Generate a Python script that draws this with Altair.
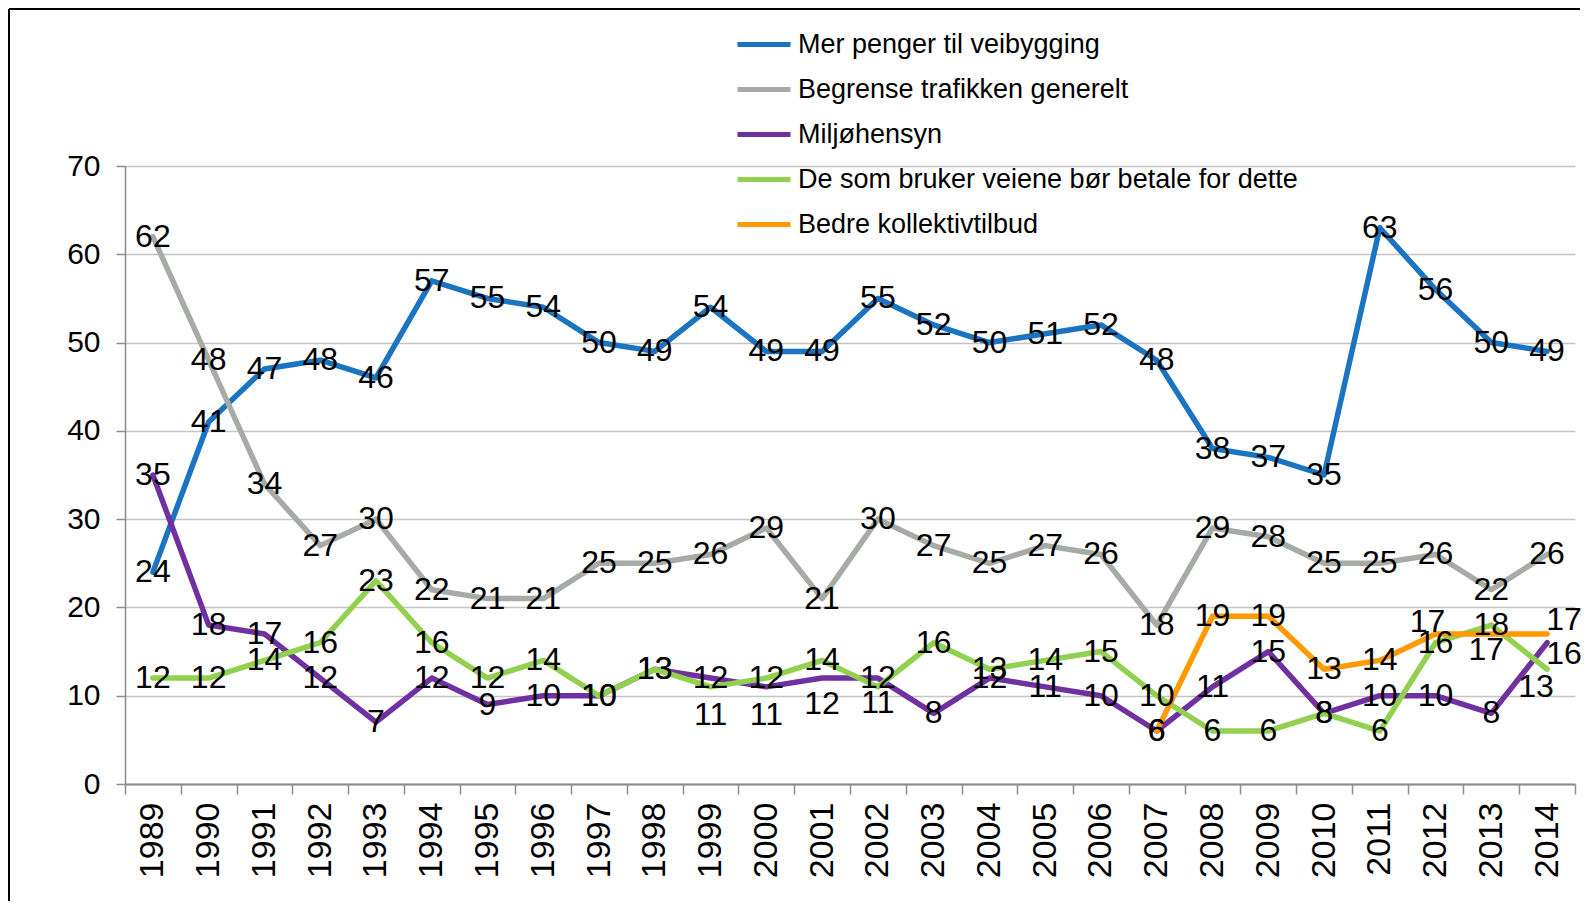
import altair as alt
import pandas as pd

years = list(range(1989, 2015))
series_names = [
    "Mer penger til veibygging",
    "Begrense trafikken generelt",
    "Miljøhensyn",
    "De som bruker veiene bør betale for dette",
    "Bedre kollektivtilbud",
]
colors = ["#1A74C2", "#A6ABA6", "#7030A0", "#92D050", "#FF9A00"]

mer_penger = [24, 41, 47, 48, 46, 57, 55, 54, 50, 49, 54, 49, 49, 55, 52, 50, 51, 52, 48, 38, 37, 35, 63, 56, 50, 49]
begrense = [62, 48, 34, 27, 30, 22, 21, 21, 25, 25, 26, 29, 21, 30, 27, 25, 27, 26, 18, 29, 28, 25, 25, 26, 22, 26]
miljo = [35, 18, 17, 12, 7, 12, 9, 10, 10, 13, 12, 11, 12, 12, 8, 12, 11, 10, 6, 11, 15, 8, 10, 10, 8, 16]
brukerbetaling = [12, 12, 14, 16, 23, 16, 12, 14, 10, 13, 11, 12, 14, 11, 16, 13, 14, 15, 10, 6, 6, 8, 6, 16, 18, 13]
kollektiv = [None] * 18 + [6, 19, 19, 13, 14, 17, 17, 17]

y_ticks = [0, 10, 20, 30, 40, 50, 60, 70]

# label placement tweaks (style only): (series, year) -> (dx, dy) in pixels
label_shift = {
    ("De som bruker veiene bør betale for dette", 1999): (0, 28),
    ("Miljøhensyn", 2000): (0, 28),
    ("Miljøhensyn", 2001): (0, 26),
    ("De som bruker veiene bør betale for dette", 2002): (0, 16),
    ("Bedre kollektivtilbud", 2012): (-8, -12),
    ("Bedre kollektivtilbud", 2013): (-5, 16),
    ("Bedre kollektivtilbud", 2014): (17, -14),
    ("Miljøhensyn", 2014): (17, 11),
    ("De som bruker veiene bør betale for dette", 2014): (-11, 18),
}

rows = []
for name, vals in zip(series_names, [mer_penger, begrense, miljo, brukerbetaling, kollektiv]):
    for yr, v in zip(years, vals):
        if v is not None:
            dx, dy = label_shift.get((name, yr), (0, 0))
            rows.append({"serie": name, "aar": str(yr), "verdi": v, "dx": dx, "dy": dy})
df = pd.DataFrame(rows)

FONT = "Liberation Sans"
W, H = 1450, 618

x_axis = alt.Axis(
    labelAngle=-90, labelAlign="right", labelBaseline="middle",
    labelFont=FONT, labelFontSize=34, labelColor="black", labelPadding=8,
    tickBand="extent", tickSize=10, tickColor="#8C8C8C", tickWidth=1.5,
    domainColor="#8C8C8C", domainWidth=2, grid=False,
)
y_axis = alt.Axis(
    values=y_ticks, labelFont=FONT, labelFontSize=30, labelColor="black",
    labelPadding=16, tickSize=9, tickColor="#8C8C8C", tickWidth=1.5,
    domainColor="#8C8C8C", domainWidth=1.5,
    grid=True, gridColor="#C4C4C4", gridWidth=1.5,
)

x_enc = alt.X(
    "aar:O", sort=[str(y) for y in years],
    scale=alt.Scale(type="band", paddingInner=0, paddingOuter=0),
    bandPosition=0.5, axis=x_axis, title=None,
)
y_enc = alt.Y("verdi:Q", scale=alt.Scale(domain=[0, 70]), axis=y_axis, title=None)
color_enc = alt.Color(
    "serie:N",
    scale=alt.Scale(domain=series_names, range=colors),
    legend=alt.Legend(
        orient="none", legendX=610, legendY=-144, title=None,
        symbolType="stroke", symbolSize=2809, symbolStrokeWidth=5,
        labelFont=FONT, labelFontSize=27, labelColor="black",
        labelOffset=5, rowPadding=0, clipHeight=45, padding=0, labelLimit=800,
    ),
)

layers = []
for name in series_names:
    layers.append(
        alt.Chart(df[df["serie"] == name])
        .mark_line(strokeWidth=5.5, strokeJoin="round", strokeCap="round")
        .encode(x=x_enc, y=y_enc, color=color_enc)
    )

for (dx, dy), sub in df.groupby(["dx", "dy"]):
    layers.append(
        alt.Chart(sub)
        .mark_text(font=FONT, fontSize=32, color="black", align="center",
                   baseline="middle", dx=int(dx), dy=int(dy))
        .encode(x=x_enc, y=y_enc, text="verdi:Q")
    )

frame = pd.DataFrame({"k": [0]})
left_border = alt.Chart(frame).mark_rule(color="black", strokeWidth=2).encode(
    x=alt.value(-116), y=alt.value(-157), y2=alt.value(735)
)
top_border = alt.Chart(frame).mark_rule(color="black", strokeWidth=2).encode(
    x=alt.value(-116), x2=alt.value(1455), y=alt.value(-157)
)
layers += [left_border, top_border]

chart = (
    alt.layer(*layers)
    .properties(width=W, height=H, padding=0, background="white")
    .configure_view(stroke=None)
)

chart.save("out.html", embed_options={"renderer": "svg", "actions": False})
